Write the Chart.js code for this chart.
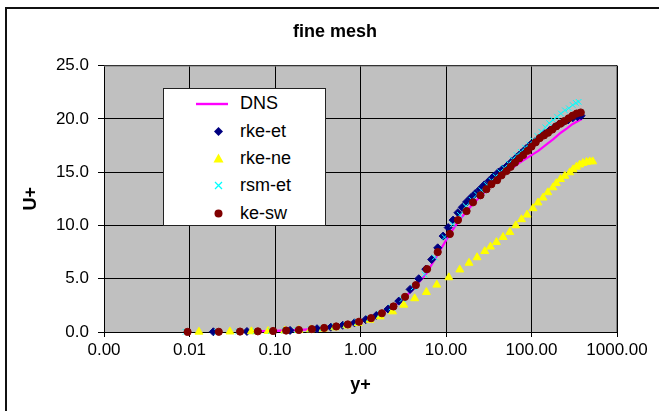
<!DOCTYPE html>
<html>
<head>
<meta charset="utf-8">
<script src="https://cdn.jsdelivr.net/npm/chart.js@4.4.1/dist/chart.umd.min.js"></script>
<style>
    html, body { margin: 0; padding: 0; background: #fff; }
    #wrap { position: relative; width: 659px; height: 411px; overflow: hidden; }
    #frame { position: absolute; left: 5px; top: 7px; width: 700px; height: 500px; border: 2px solid #111; box-sizing: border-box; }
    #chart { position: absolute; left: 0; top: 0; }
    #legend {
        position: absolute; left: 163px; top: 88px; width: 163px; height: 138px;
        box-sizing: border-box; border: 1px solid #222; background: #fff;
        font-family: "Liberation Sans", Arial, sans-serif; font-size: 18px; color: #000;
    }
    .row { position: absolute; left: 0; width: 100%; height: 24px; }
    .row svg { position: absolute; left: 30px; top: 0; }
    .row span { position: absolute; left: 76px; top: 2px; line-height: 20px; }
</style>
</head>
<body>
<div id="wrap">
    <div id="frame"></div>
    <canvas id="chart" width="659" height="411"></canvas>
    <div id="legend"></div>
</div>
<script>
// ===== DATA =====
const xTickValues = [0.001, 0.01, 0.1, 1, 10, 100, 1000];
const yTickValues = [0, 5, 10, 15, 20, 25];

const seriesNames = ['DNS', 'rke-et', 'rke-ne', 'rsm-et', 'ke-sw'];

const dnsX = [0.05, 0.1, 0.2, 0.3, 0.5, 0.7, 1.0, 1.5, 2.0, 3.0, 4.0, 5.0, 6.0, 7.0, 8.0, 10, 12, 15, 20, 25, 30, 40, 50, 60, 70, 80, 100, 120, 150, 180, 220, 260, 300, 350, 392];
const dnsY = [0.05, 0.1, 0.2, 0.3, 0.5, 0.7, 1.0, 1.5, 2.0, 2.95, 3.9, 4.8, 5.6, 6.5, 7.3, 8.6, 9.6, 10.7, 11.9, 12.7, 13.3, 14.3, 15.0, 15.4, 15.8, 16.1, 16.6, 17.0, 17.6, 18.1, 18.7, 19.1, 19.5, 19.8, 20.0];

const rkeEtX = [0.019, 0.047, 0.15, 0.31, 0.45, 0.62, 0.85, 1.15, 1.53, 2.1, 2.8, 3.8, 4.8, 5.8, 6.8, 8.0, 9.25, 10.6, 12.1, 13.8, 15.5, 17.4, 19.5, 22, 25, 28, 32, 36, 41, 46, 52, 59, 67, 76, 86, 98, 111, 126, 143, 162, 184, 208, 236, 268, 304, 345, 380];
const rkeEtY = [0.02, 0.05, 0.15, 0.31, 0.45, 0.63, 0.86, 1.16, 1.55, 2.15, 2.9, 4.0, 5.0, 5.9, 6.8, 7.9, 9.0, 9.8, 10.5, 11.2, 11.7, 12.2, 12.6, 13.0, 13.4, 13.8, 14.2, 14.6, 15.0, 15.3, 15.6, 16.0, 16.4, 16.8, 17.2, 17.6, 17.9, 18.3, 18.6, 18.9, 19.2, 19.5, 19.7, 19.9, 20.1, 20.2, 20.3];

const rkeNeX = [0.0129, 0.0297, 0.053, 0.083, 0.13, 0.19, 0.26, 0.366, 0.5, 0.69, 0.94, 1.29, 1.7, 2.37, 3.2, 4.3, 5.9, 7.8, 10.8, 14.5, 18.6, 23.1, 28.4, 33.1, 38.9, 46.5, 55.7, 65.4, 76.3, 88.7, 104, 119, 136.5, 155, 178, 195, 218, 245, 280, 306, 335, 366, 400, 440, 480, 520];
const rkeNeY = [0.013, 0.03, 0.05, 0.08, 0.12, 0.17, 0.23, 0.3, 0.42, 0.6, 0.82, 1.13, 1.45, 1.92, 2.55, 3.15, 3.74, 4.43, 5.12, 5.85, 6.48, 7.0, 7.58, 8.0, 8.43, 8.9, 9.37, 10.0, 10.57, 11.0, 11.6, 12.14, 12.6, 13.1, 13.56, 13.96, 14.34, 14.65, 14.97, 15.25, 15.5, 15.7, 15.85, 15.95, 16.0, 16.0];

const rsmEtX = [0.009, 0.021, 0.037, 0.06, 0.09, 0.13, 0.18, 0.26, 0.36, 0.5, 0.68, 0.92, 1.28, 1.7, 2.3, 3.1, 4.2, 5.6, 7.4, 9.6, 12.0, 14.5, 17, 20, 23, 26, 30, 34, 38, 43, 48, 54, 60, 67, 75, 84, 94, 105, 117, 130, 145, 161, 179, 199, 221, 246, 273, 303, 330, 356];
const rsmEtY = [0.01, 0.02, 0.04, 0.06, 0.09, 0.13, 0.18, 0.26, 0.36, 0.5, 0.68, 0.92, 1.28, 1.7, 2.3, 3.1, 4.2, 5.4, 7.0, 8.9, 10.1, 11.0, 11.8, 12.4, 12.9, 13.3, 13.8, 14.2, 14.6, 15.0, 15.4, 15.8, 16.2, 16.6, 16.9, 17.3, 17.6, 18.0, 18.4, 18.8, 19.2, 19.6, 19.9, 20.2, 20.5, 20.8, 21.0, 21.3, 21.5, 21.6];

const keSwX = [0.0095, 0.022, 0.039, 0.063, 0.095, 0.135, 0.19, 0.27, 0.376, 0.52, 0.71, 0.96, 1.33, 1.78, 2.43, 3.32, 4.44, 6.01, 8.0, 11.1, 13.8, 17.4, 20.7, 25.3, 29.7, 34, 39.6, 44.6, 50.9, 57, 64, 72, 80, 90, 100, 112, 125, 140, 156, 175, 195, 218, 243, 272, 303, 338, 377];
const keSwY = [0.01, 0.02, 0.04, 0.06, 0.095, 0.135, 0.19, 0.27, 0.38, 0.52, 0.71, 0.96, 1.3, 1.76, 2.4, 3.3, 4.4, 5.9, 7.5, 9.2, 10.5, 11.35, 12.17, 12.83, 13.4, 13.87, 14.25, 14.7, 15.1, 15.5, 15.9, 16.3, 16.6, 17.0, 17.4, 17.8, 18.2, 18.45, 18.7, 19.0, 19.3, 19.55, 19.8, 20.05, 20.3, 20.5, 20.6];

// ===== HELPERS =====
function toPoints(xs, ys) {
    return xs.map((x, i) => ({ x: x, y: ys[i] }));
}

const FONT = '"Liberation Sans", Arial, sans-serif';
Chart.defaults.font.family = FONT;
Chart.defaults.color = '#000';

// gray plot background + gray top/right edge
const plotArea = {
    id: 'plotArea',
    beforeDraw(chart) {
        const { ctx, chartArea: a } = chart;
        ctx.save();
        ctx.fillStyle = '#c0c0c0';
        ctx.fillRect(a.left, a.top, a.right - a.left, a.bottom - a.top);
        ctx.restore();
    },
    beforeDatasetsDraw(chart) {
        const { ctx, chartArea: a } = chart;
        ctx.save();
        ctx.strokeStyle = '#808080';
        ctx.lineWidth = 1;
        ctx.beginPath();
        ctx.moveTo(a.left, a.top + 0.5);
        ctx.lineTo(a.right - 0.5, a.top + 0.5);
        ctx.lineTo(a.right - 0.5, a.bottom);
        ctx.stroke();
        ctx.restore();
    }
};

const markerDefaults = { showLine: false, clip: false, borderWidth: 1 };

new Chart(document.getElementById('chart'), {
    type: 'scatter',
    data: {
        datasets: [
            {
                label: seriesNames[4], data: toPoints(keSwX, keSwY), order: 0, ...markerDefaults,
                pointStyle: 'circle', pointRadius: 3.6, backgroundColor: '#800000', borderColor: '#800000'
            },
            {
                label: seriesNames[3], data: toPoints(rsmEtX, rsmEtY), order: 1, ...markerDefaults,
                pointStyle: 'crossRot', pointRadius: 4, backgroundColor: '#00ffff', borderColor: '#00ffff'
            },
            {
                label: seriesNames[2], data: toPoints(rkeNeX, rkeNeY), order: 2, ...markerDefaults,
                pointStyle: 'triangle', pointRadius: 4.6, backgroundColor: '#ffff00', borderColor: '#ffff00'
            },
            {
                label: seriesNames[1], data: toPoints(rkeEtX, rkeEtY), order: 3, ...markerDefaults,
                pointStyle: 'rectRot', pointRadius: 4, backgroundColor: '#000080', borderColor: '#000080'
            },
            {
                label: seriesNames[0], data: toPoints(dnsX, dnsY), order: 4,
                showLine: true, clip: false, pointRadius: 0, borderColor: '#ff00ff', borderWidth: 2.2,
                tension: 0
            }
        ]
    },
    options: {
        responsive: false,
        animation: false,
        events: [],
        layout: { padding: { left: 53, right: 42, top: 0, bottom: 15 } },
        plugins: {
            legend: { display: false },
            tooltip: { enabled: false },
            title: {
                display: true,
                text: 'fine mesh',
                color: '#000',
                font: { family: FONT, size: 18, weight: 'bold' },
                padding: { top: 21, bottom: 23 }
            }
        },
        scales: {
            x: {
                type: 'logarithmic',
                min: 0.001,
                max: 1000,
                afterBuildTicks: scale => { scale.ticks = xTickValues.map(v => ({ value: v })); },
                afterFit: scale => { scale.height = 64; },
                ticks: {
                    color: '#000',
                    font: { size: 17 },
                    padding: 3,
                    maxRotation: 0,
                    autoSkip: false,
                    callback: v => Number(v).toFixed(2)
                },
                grid: { color: '#000', lineWidth: 1, tickLength: 5, drawTicks: true },
                border: { color: '#000', width: 1 },
                title: {
                    display: true, text: 'y+', color: '#000',
                    font: { size: 18, weight: 'bold' },
                    padding: { top: 0, bottom: 0 }
                }
            },
            y: {
                min: 0,
                max: 25,
                afterBuildTicks: scale => { scale.ticks = yTickValues.map(v => ({ value: v })); },
                afterFit: scale => { scale.width = 51; },
                ticks: {
                    color: '#000',
                    font: { size: 17 },
                    padding: 9,
                    callback: v => Number(v).toFixed(1)
                },
                grid: { color: '#000', lineWidth: 1, tickLength: 6, drawTicks: true },
                border: { color: '#000', width: 1 },
                title: {
                    display: true, text: 'U+', color: '#000',
                    font: { size: 18, weight: 'bold' },
                    padding: { top: -33, bottom: 0 }
                }
            }
        }
    },
    plugins: [plotArea]
});

// ===== HTML LEGEND =====
const legendMarkers = [
    '<svg width="36" height="24"><line x1="2" y1="13" x2="34" y2="13" stroke="#ff00ff" stroke-width="2.4"/></svg>',
    '<svg width="36" height="24"><polygon points="24.5,8 29,12.5 24.5,17 20,12.5" fill="#000080"/></svg>',
    '<svg width="36" height="24"><polygon points="24.5,7.5 29.5,16.5 19.5,16.5" fill="#ffff00"/></svg>',
    '<svg width="36" height="24"><path d="M21,9 L28,16 M28,9 L21,16" stroke="#00ffff" stroke-width="1.3"/></svg>',
    '<svg width="36" height="24"><circle cx="24.5" cy="12.5" r="4" fill="#800000"/></svg>'
];
const legendRowTops = [2, 30, 57, 84, 112];
const legendEl = document.getElementById('legend');
seriesNames.forEach((name, i) => {
    const row = document.createElement('div');
    row.className = 'row';
    row.style.top = legendRowTops[i] + 'px';
    row.innerHTML = legendMarkers[i] + '<span>' + name + '</span>';
    legendEl.appendChild(row);
});
</script>
</body>
</html>
